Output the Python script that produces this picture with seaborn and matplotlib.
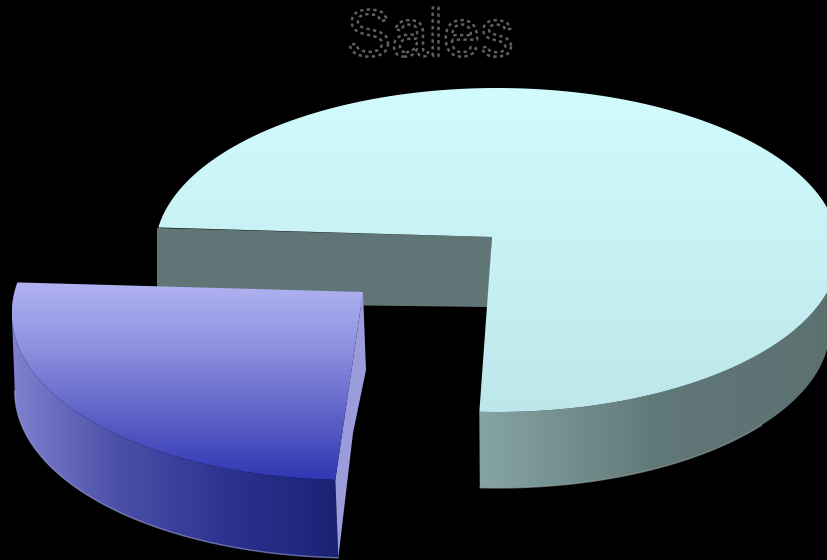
import numpy as np
import matplotlib
matplotlib.use("Agg")
import matplotlib.pyplot as plt
import matplotlib.patheffects as pe
from matplotlib.patches import Polygon
import seaborn as sns

# Sales shares, in percent
categories = ["Main", "Other"]
sales = [73.6, 26.4]

title_text = "Sales"
wedge_top = ["#d1fbfd", "#bde7ea"]
wedge_rim = ["#86a4a4", "#617878", "#5c7070"]
cut_wall = "#607676"
slice_top = ["#b1b3f2", "#8e90e0", "#5f63c8", "#2f37b4"]
slice_rim = ["#7e82d0", "#4a4fa6", "#2b3290", "#1a2275"]
slice_face = "#9a9cdc"


class DashedOutline(pe.AbstractPathEffect):
    """Thin dashed stroke around glyphs, filled with the text colour."""

    def draw_path(self, renderer, gc, tpath, affine, rgbFace=None):
        renderer.draw_path(gc, tpath, affine, (0, 0, 0, 1))
        gc0 = renderer.new_gc()
        gc0.copy_properties(gc)
        gc0.set_linewidth(1.8)
        gc0.set_foreground("#606060")
        gc0.set_dashes(0, [2.4, 2.4])
        renderer.draw_path(gc0, tpath, affine, None)
        gc0.restore()


sns.set_theme(style="white", rc={"figure.facecolor": "black", "axes.facecolor": "black"})
plt.rcParams["font.family"] = ["Liberation Sans", "DejaVu Sans"]

fig = plt.figure(figsize=(8.27, 5.6), dpi=100)
ax = fig.add_axes([0, 0, 1, 1])
ax.set_xlim(0, 827)
ax.set_ylim(560, 0)
ax.set_axis_off()


def arc(t0, t1, cx=497.0, cy=250.0, rx=342.0, ry=162.0, n=200):
    t = np.radians(np.linspace(t0, t1, n))
    return np.column_stack([cx + rx * np.cos(t), cy - ry * np.sin(t)])


def gradient_fill(points, colors, z, vertical=True):
    """Fill a polygon with a linear colour ramp clipped to its outline."""
    cmap = sns.blend_palette(colors, as_cmap=True)
    ramp = np.linspace(0, 1, 256)
    ramp = ramp[:, None] if vertical else ramp[None, :]
    x0, y0 = points.min(axis=0)
    x1, y1 = points.max(axis=0)
    im = ax.imshow(ramp, cmap=cmap, extent=(x0, x1, y1, y0), origin="upper",
                   aspect="auto", interpolation="bilinear", vmin=0, vmax=1, zorder=z)
    clip = Polygon(points, closed=True, transform=ax.transData, fc="none", ec="none")
    ax.add_patch(clip)
    im.set_clip_path(clip)


# Angular extent of both wedges follows from the shares
start = 172.0
blue_sweep = 360.0 * sales[1] / sum(sales)
split = start + blue_sweep
apex = np.array([492.0, 237.0])

# Main wedge: outer rim, cut wall, then top surface
rim_top = arc(split, 360)
rim_bottom = arc(split, 360, cy=328.0, rx=333.0, ry=160.0)
rim_poly = np.vstack([rim_top, rim_bottom[::-1]])
gradient_fill(rim_poly, wedge_rim, z=1, vertical=False)
ax.plot(rim_bottom[:120, 0], rim_bottom[:120, 1], color="#9aa6a6", lw=1, alpha=0.6, zorder=2)

wall = Polygon([(157, 228), apex, (488, 307), (157, 303)], closed=True,
               fc=cut_wall, ec="none", zorder=3)
ax.add_patch(wall)

top_arc = arc(split, 360 + start)
gradient_fill(np.vstack([apex, top_arc]), wedge_top, z=4)

# Exploded wedge: same arc moved and skewed towards the viewer
src = np.array([[159.0, 228.0, 1], [480.0, 412.0, 1], [492.0, 237.0, 1]])
dst = np.array([[18.0, 283.0], [336.0, 480.0], [363.0, 292.0]])
skew = np.linalg.solve(src, dst)


def move_out(pts):
    return np.column_stack([pts, np.ones(len(pts))]) @ skew


blue_arc = move_out(arc(start, split))
blue_apex = move_out(apex[None, :])[0]
depth = np.array([3.0, 78.0])

# The side starts at the arc's leftmost point so its outline stays tangent
left = int(np.argmin(blue_arc[:, 0]))
side_top = blue_arc[left:]
side_bottom = side_top + depth
gradient_fill(np.vstack([side_top, side_bottom[::-1]]), slice_rim, z=5, vertical=False)
ax.plot(*side_bottom.T, color="#a4a6e0", lw=1, alpha=0.6, zorder=6)

face = Polygon([blue_apex, blue_apex + depth, (353, 433), blue_arc[-1] + depth, blue_arc[-1]],
               closed=True, fc=slice_face, ec="none", zorder=7)
ax.add_patch(face)

gradient_fill(np.vstack([blue_apex, blue_arc]), slice_top, z=8)

ax.set_xlim(0, 827)
ax.set_ylim(560, 0)

ax.text(430, 39, title_text, ha="center", va="center", fontsize=48, color="black",
        path_effects=[DashedOutline()], zorder=9)

fig.savefig("out.png", dpi=100, facecolor="black")
